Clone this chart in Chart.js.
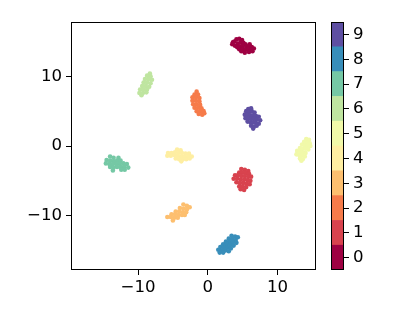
<!DOCTYPE html>
<html><head><meta charset="utf-8">
<script src="https://cdn.jsdelivr.net/npm/chart.js@4/dist/chart.umd.min.js"></script>
<style>
html,body{margin:0;padding:0;background:#fff;}
#wrap{position:relative;width:399px;height:319px;}
canvas{position:absolute;left:0;top:0;}
</style></head>
<body><div id="wrap"><canvas id="main" width="399" height="319"></canvas><canvas id="cbar" width="399" height="319"></canvas></div>
<script>
// ---- data (t-SNE embedding, one array per class) ----
const classLabels = ['0','1','2','3','4','5','6','7','8','9'];
const xTicks = [-10, 0, 10];
const yTicks = [-10, 0, 10];
const cls0 = [[3.5,14.6],[3.8,15.0],[4.1,15.3],[4.5,15.4],[4.9,15.2],[3.9,14.4],[4.3,14.7],[4.7,14.9],[5.1,14.8],[5.4,14.6],[4.2,14.2],[4.6,14.3],[5.0,14.4],[5.5,14.2],[5.9,14.3],[6.3,14.2],[6.6,14.0],[4.5,13.9],[5.0,13.9],[5.4,13.8],[5.8,13.9],[6.2,13.8],[5.3,13.4],[5.9,13.5],[6.4,13.6],[4.8,13.6],[3.6,14.9],[6.0,14.6]];
const cls1 = [[4.8,-3.3],[5.3,-3.4],[5.8,-3.6],[4.5,-3.8],[4.9,-3.8],[5.4,-3.9],[5.9,-4.0],[3.9,-4.2],[4.3,-4.2],[4.8,-4.3],[5.3,-4.3],[5.8,-4.4],[6.2,-4.4],[3.7,-4.7],[4.2,-4.7],[4.7,-4.8],[5.2,-4.8],[5.7,-4.9],[6.1,-5.0],[4.1,-5.2],[4.6,-5.3],[5.1,-5.3],[5.6,-5.4],[6.0,-5.5],[4.5,-5.8],[5.0,-5.8],[5.5,-5.9],[4.7,-6.2],[5.2,-6.3]];
const cls2 = [[-1.6,7.8],[-1.9,7.4],[-1.4,7.4],[-2.2,7.0],[-1.7,7.0],[-1.2,6.9],[-2.2,6.5],[-1.7,6.5],[-1.2,6.4],[-2.1,6.0],[-1.6,6.0],[-1.1,5.9],[-1.9,5.5],[-1.4,5.5],[-0.9,5.4],[-1.6,5.0],[-1.1,5.0],[-0.6,5.0],[-1.3,4.6],[-0.8,4.5],[-0.5,4.7]];
const cls3 = [[-3.5,-8.4],[-3.0,-8.6],[-2.6,-8.8],[-4.0,-8.9],[-3.5,-9.0],[-3.0,-9.1],[-4.6,-9.4],[-4.1,-9.4],[-3.6,-9.5],[-3.1,-9.5],[-5.2,-9.8],[-4.7,-9.8],[-4.2,-9.9],[-3.7,-9.9],[-5.8,-10.2],[-5.3,-10.2],[-4.8,-10.3],[-4.3,-10.3],[-5.0,-10.7],[-3.3,-9.9]];
const cls4 = [[-4.4,-0.5],[-3.9,-0.6],[-5.7,-1.0],[-5.2,-1.0],[-4.7,-0.9],[-4.2,-1.0],[-3.7,-1.0],[-3.2,-1.1],[-2.7,-1.1],[-5.8,-1.4],[-5.3,-1.4],[-4.8,-1.3],[-4.3,-1.4],[-3.8,-1.5],[-3.3,-1.5],[-2.8,-1.5],[-2.3,-1.5],[-4.6,-1.8],[-4.1,-1.9],[-3.6,-1.9],[-3.1,-1.9],[-2.6,-1.8],[-3.8,-2.2]];
const cls5 = [[14.1,1.0],[14.5,0.9],[13.8,0.6],[14.2,0.5],[14.6,0.4],[13.5,0.2],[13.9,0.1],[14.3,0.0],[14.7,0.0],[13.2,-0.3],[13.6,-0.4],[14.0,-0.4],[14.4,-0.5],[12.8,-0.7],[13.2,-0.8],[13.6,-0.9],[14.0,-1.0],[12.7,-1.2],[13.1,-1.3],[13.5,-1.3],[13.9,-1.5],[13.2,-1.8],[13.6,-1.9],[13.4,-2.1]];
const cls6 = [[-8.3,10.4],[-8.7,10.1],[-8.2,10.0],[-9.0,9.6],[-8.5,9.6],[-8.0,9.5],[-9.2,9.1],[-8.7,9.1],[-8.2,9.0],[-9.4,8.6],[-8.9,8.6],[-8.4,8.5],[-9.7,8.1],[-9.2,8.1],[-8.7,8.1],[-9.8,7.6],[-9.3,7.6],[-8.8,7.7],[-9.5,7.3]];
const cls7 = [[-14.0,-1.5],[-13.5,-1.7],[-12.8,-1.7],[-14.5,-2.0],[-14.0,-2.1],[-13.5,-2.2],[-13.0,-2.1],[-12.5,-2.1],[-14.6,-2.5],[-14.1,-2.6],[-13.6,-2.6],[-13.1,-2.6],[-12.6,-2.5],[-12.1,-2.5],[-11.6,-2.6],[-14.0,-3.0],[-13.5,-3.1],[-13.0,-3.0],[-12.5,-3.0],[-12.0,-3.0],[-11.4,-3.1],[-13.6,-3.5],[-12.4,-3.4],[-11.9,-3.4]];
const cls8 = [[3.4,-12.9],[3.9,-13.0],[4.3,-13.1],[3.0,-13.3],[3.5,-13.4],[4.0,-13.5],[2.6,-13.7],[3.1,-13.8],[3.6,-13.8],[4.1,-13.9],[2.2,-14.1],[2.7,-14.2],[3.2,-14.2],[3.7,-14.3],[1.8,-14.5],[2.3,-14.6],[2.8,-14.6],[3.3,-14.7],[1.5,-14.9],[2.0,-15.0],[2.5,-15.0],[3.0,-15.1],[1.7,-15.3],[2.2,-15.3]];
const cls9 = [[5.8,5.3],[6.2,5.4],[5.5,5.0],[5.9,4.9],[6.3,5.0],[6.7,4.8],[5.3,4.5],[5.7,4.5],[6.1,4.4],[6.5,4.4],[6.9,4.3],[7.3,4.2],[5.4,4.0],[5.8,4.0],[6.2,3.9],[6.6,3.9],[7.0,3.8],[7.5,3.7],[5.7,3.5],[6.1,3.4],[6.5,3.4],[6.9,3.3],[7.3,3.2],[6.2,2.9],[6.6,2.8],[7.0,2.9],[6.5,2.5]];
const classPoints = [cls0, cls1, cls2, cls3, cls4, cls5, cls6, cls7, cls8, cls9];

// ---- style ----
const spectral = ['#9e0142','#d8434e','#f67b4a','#fdbf6f','#feeea2','#f1f9a9','#bfe5a0','#75c8a5','#388eba','#5e4fa2'];
const FONT = {family:'"DejaVu Sans", sans-serif', size:16.6};
const fmt = v => (v < 0 ? '\u2212' + Math.abs(v) : String(v));

const frame = {
  id:'frame',
  afterDraw(chart){
    const a = chart.chartArea, c = chart.ctx;
    c.save(); c.strokeStyle = '#000'; c.lineWidth = 1;
    c.strokeRect(Math.round(a.left) + 0.5, Math.round(a.top) + 0.5, Math.round(a.right - a.left) - 1, Math.round(a.bottom - a.top) - 1);
    c.restore();
  }
};
Chart.defaults.font.family = FONT.family;

const tickGrid = {drawOnChartArea:false, drawTicks:true, tickLength:5, tickColor:'#000', tickWidth:1, color:'#000'};

new Chart(document.getElementById('main'), {
  type:'scatter',
  data:{datasets: classPoints.map((pts, i) => ({
    label: classLabels[i],
    data: pts.map(p => ({x:p[0], y:p[1]})),
    backgroundColor: spectral[i], borderWidth:0, pointRadius:2.3, pointHoverRadius:2.3
  }))},
  options:{
    responsive:false, animation:false,
    layout:{padding:{top:22, right:83, left:0, bottom:0}},
    plugins:{legend:{display:false}, tooltip:{enabled:false}},
    scales:{
      x:{type:'linear', min:-19.6, max:15.5,
        afterBuildTicks: s => { s.ticks = xTicks.map(v => ({value:v})); },
        afterFit: s => { s.height = 49; },
        ticks:{callback: fmt, font:FONT, color:'#000', padding:3, maxRotation:0, autoSkip:false},
        grid: tickGrid, border:{display:false}},
      y:{type:'linear', min:-17.8, max:17.8,
        afterBuildTicks: s => { s.ticks = yTicks.map(v => ({value:v})); },
        afterFit: s => { s.width = 71; },
        ticks:{callback: fmt, font:FONT, color:'#000', padding:4, autoSkip:false},
        grid: tickGrid, border:{display:false}}
    }
  },
  plugins:[frame]
});

new Chart(document.getElementById('cbar'), {
  type:'bar',
  data:{labels:[''], datasets: classLabels.map((l, i) => ({
    label:l, data:[1], backgroundColor: spectral[i], borderWidth:0,
    barPercentage:1, categoryPercentage:1
  }))},
  options:{
    responsive:false, animation:false,
    layout:{padding:{top:22, right:0, left:331, bottom:49}},
    plugins:{legend:{display:false}, tooltip:{enabled:false}},
    scales:{
      x:{display:false, stacked:true},
      y:{position:'right', stacked:true, min:0, max:classLabels.length,
        afterBuildTicks: s => { s.ticks = classLabels.map((l, i) => ({value:i + 0.5})); },
        afterFit: s => { s.width = 55; },
        ticks:{callback: (v, i) => classLabels[i], font:FONT, color:'#000', padding:4, autoSkip:false},
        grid: tickGrid, border:{display:false}}
    }
  },
  plugins:[frame]
});
</script>
</body></html>
